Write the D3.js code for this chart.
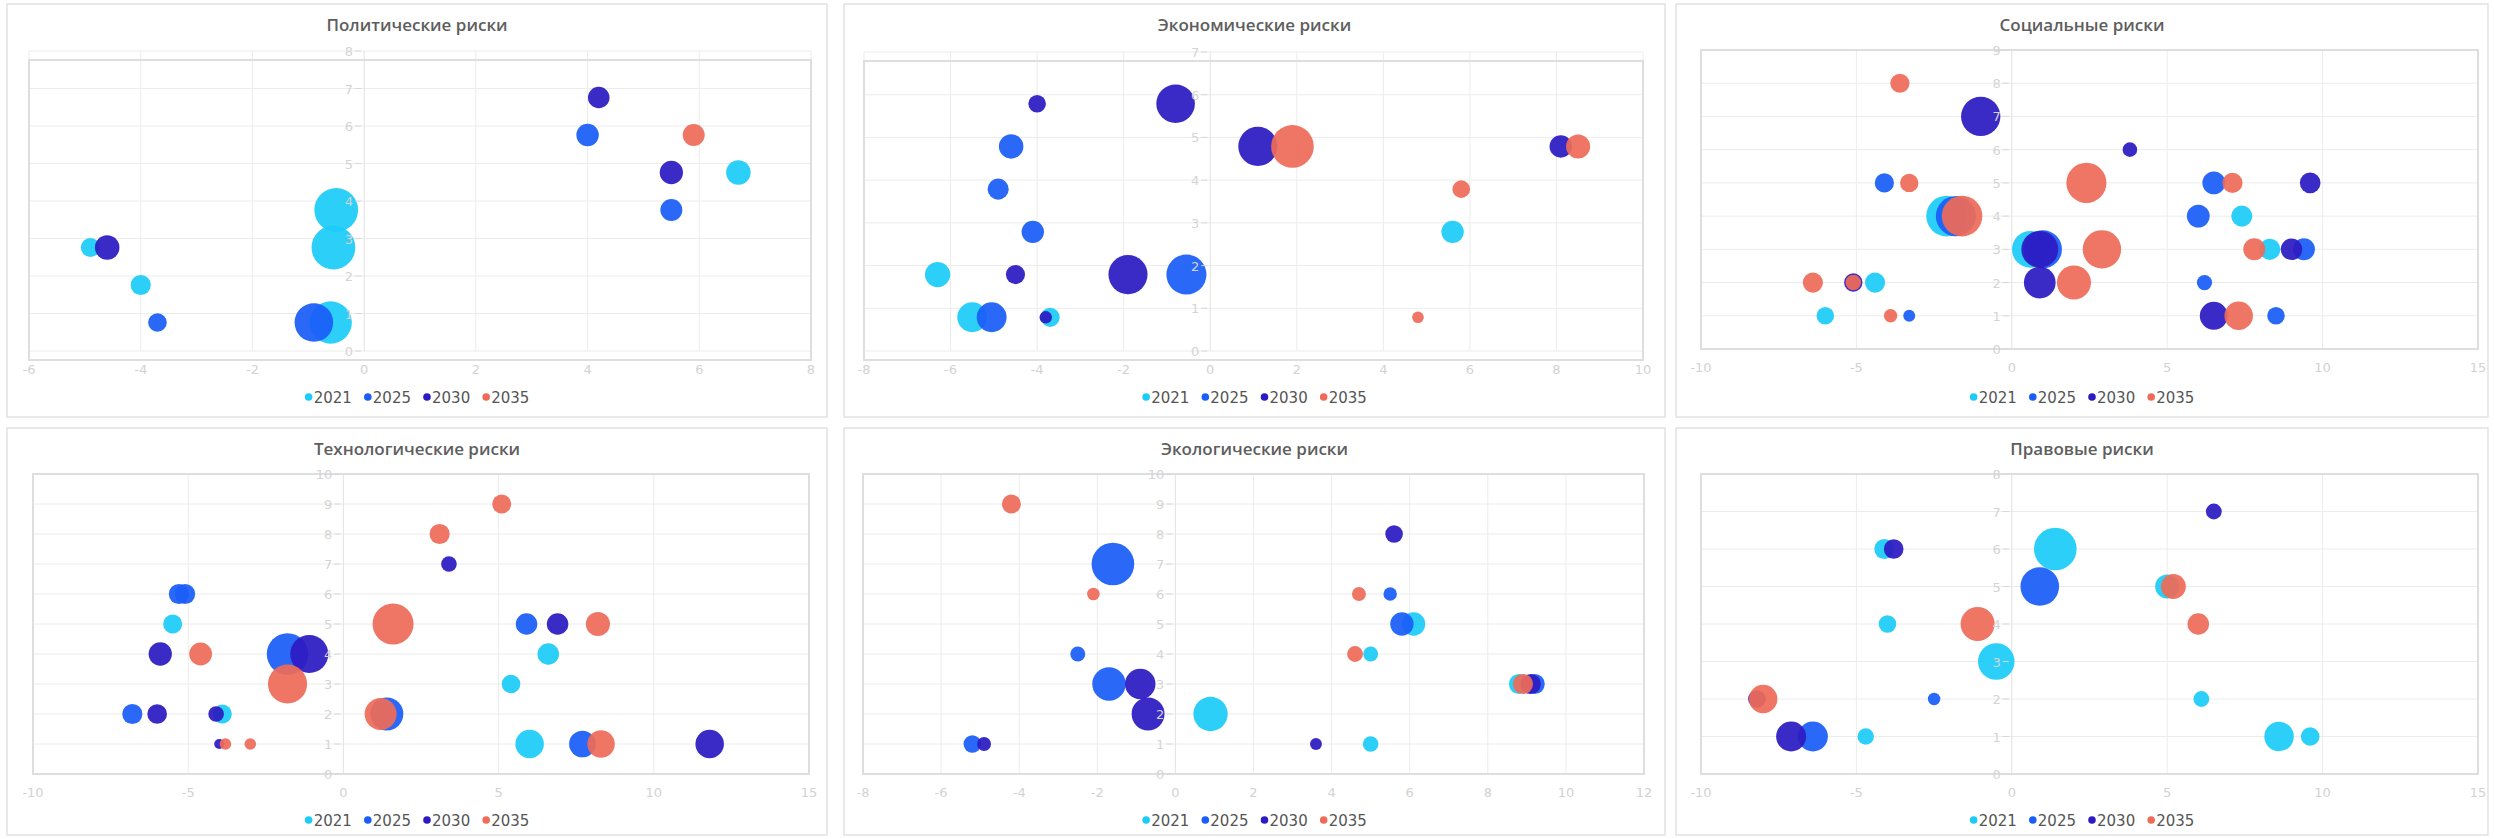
<!DOCTYPE html>
<html>
<head>
<meta charset="utf-8">
<script src="https://cdn.jsdelivr.net/npm/d3@7"></script>
<style>
  body { margin: 0; background: #fff; }
  svg { display: block; }
  text { font-family: "DejaVu Sans", sans-serif; }
  .title { font-family: "Open Sans", "DejaVu Sans", sans-serif; }
</style>
</head>
<body>
<svg id="chart" width="2494" height="839"></svg>
<script>
// series
const years = ["2021", "2025", "2030", "2035"];
const yearColors = ["#1ccbf7", "#1a5ef7", "#2c1bc2", "#ee6b58"];

// panels
const titles = ["Политические риски", "Экономические риски", "Социальные риски",
                "Технологические риски", "Экологические риски", "Правовые риски"];
const xDomains = [[-6, 8], [-8, 10], [-10, 15], [-10, 15], [-8, 12], [-10, 15]];
const xSteps = [2, 2, 5, 5, 2, 5];
const yMaxes = [8, 7, 9, 10, 10, 8];

// points: [year index, x, y, size]
const political = [
  [0, -4.9, 3, 1.9], [2, -4.6, 3, 3.1], [0, -4.0, 2, 2.1], [1, -3.7, 1, 1.8],
  [0, -0.5, 4, 9.9], [0, -0.55, 3, 9.9], [0, -0.6, 1, 9.3], [1, -0.9, 1, 7.7],
  [2, 4.2, 7, 2.4], [1, 4.0, 6, 2.6], [3, 5.9, 6, 2.5], [2, 5.5, 5, 2.8],
  [0, 6.7, 5, 3.1], [1, 5.5, 4, 2.5]
];
const economic = [
  [2, -4.0, 6, 1.6], [1, -4.6, 5, 3.1], [1, -4.9, 4, 2.3], [1, -4.1, 3, 2.6],
  [0, -6.3, 2, 3.3], [2, -4.5, 2, 1.9], [2, -1.9, 2, 7.9], [1, -0.55, 2, 8.3],
  [0, -5.5, 1, 4.6], [1, -5.05, 1, 4.6], [0, -3.7, 1, 1.9], [2, -3.8, 1, 0.8],
  [2, -0.8, 6, 7.7], [2, 1.1, 5, 7.9], [3, 1.9, 5, 9.4], [3, 5.8, 4, 1.6],
  [0, 5.6, 3, 2.6], [3, 4.8, 1, 0.7], [2, 8.1, 5, 2.6], [3, 8.5, 5, 3.0]
];
const social = [
  [3, -3.6, 8, 1.9], [2, -1.0, 7, 8.0], [1, -4.1, 5, 1.9], [3, -3.3, 5, 1.75],
  [0, -2.1, 4, 8.5], [1, -1.8, 4, 8.3], [3, -1.6, 4, 8.5], [3, -6.4, 2, 2.1],
  [2, -5.1, 2, 1.75], [3, -5.1, 2, 1.26], [0, -4.4, 2, 2.1], [0, -6.0, 1, 1.6],
  [3, -3.9, 1, 0.93], [1, -3.3, 1, 0.74], [0, 0.6, 3, 7.0], [1, 1.0, 3, 7.5],
  [2, 0.9, 3, 7.0], [2, 0.9, 2, 5.2], [3, 2.0, 2, 6.0], [3, 2.4, 5, 8.3],
  [3, 2.9, 3, 7.6], [2, 3.8, 6, 1.1], [1, 6.5, 5, 2.7], [3, 7.1, 5, 2.1],
  [2, 9.6, 5, 2.2], [1, 6.0, 4, 2.7], [0, 7.4, 4, 2.3], [3, 7.8, 3, 2.5],
  [0, 8.3, 3, 2.3], [2, 9.0, 3, 2.4], [1, 9.4, 3, 2.5], [1, 6.2, 2, 1.2],
  [2, 6.5, 1, 4.05], [3, 7.3, 1, 4.2], [1, 8.5, 1, 1.6]
];
const technological = [
  [1, -5.3, 6, 2.1], [1, -5.1, 6, 2.1], [0, -5.5, 5, 1.86], [2, -5.9, 4, 2.8],
  [3, -4.6, 4, 2.7], [1, -1.8, 4, 8.9], [2, -1.1, 4, 7.5], [3, -1.8, 3, 7.9],
  [1, -6.8, 2, 2.1], [2, -6.0, 2, 2.0], [0, -3.9, 2, 1.86], [2, -4.1, 2, 1.26],
  [2, -4.0, 1, 0.52], [3, -3.8, 1, 0.7], [3, -3.0, 1, 0.7], [3, 1.6, 5, 8.7],
  [1, 1.4, 2, 5.6], [3, 1.2, 2, 5.3], [3, 3.1, 8, 2.1], [2, 3.4, 7, 1.26],
  [3, 5.1, 9, 1.86], [1, 5.9, 5, 2.4], [2, 6.9, 5, 2.4], [3, 8.2, 5, 3.0],
  [0, 6.6, 4, 2.4], [0, 5.4, 3, 1.8], [0, 6.0, 1, 4.2], [1, 7.7, 1, 3.65],
  [3, 8.3, 1, 3.9], [2, 11.8, 1, 4.2]
];
const ecological = [
  [3, -4.2, 9, 1.86], [1, -1.6, 7, 9.4], [3, -2.1, 6, 0.82], [1, -2.5, 4, 1.16],
  [1, -1.7, 3, 5.8], [2, -0.9, 3, 4.8], [2, -0.7, 2, 5.6], [0, 0.9, 2, 6.1],
  [1, -5.2, 1, 1.6], [2, -4.9, 1, 1.0], [2, 5.6, 8, 1.6], [3, 4.7, 6, 1.0],
  [1, 5.5, 6, 0.93], [0, 6.1, 5, 2.8], [1, 5.8, 5, 2.8], [3, 4.6, 4, 1.3],
  [0, 5.0, 4, 1.16], [0, 8.8, 3, 2.1], [1, 9.2, 3, 2.1], [2, 9.1, 3, 2.1],
  [3, 8.9, 3, 2.1], [2, 3.6, 1, 0.74], [0, 5.0, 1, 1.26]
];
const legal = [
  [0, -4.1, 6, 2.1], [2, -3.8, 6, 2.0], [0, -4.0, 4, 1.6], [3, -1.1, 4, 6.0],
  [0, -0.5, 3, 6.9], [0, 1.4, 6, 9.4], [1, 0.9, 5, 7.7], [2, -8.2, 2, 1.6],
  [3, -8.0, 2, 4.2], [2, -7.1, 1, 4.65], [1, -6.4, 1, 4.65], [0, -4.7, 1, 1.4],
  [1, -2.5, 2, 0.8], [2, 6.5, 7, 1.3], [0, 5.0, 5, 3.0], [3, 5.2, 5, 3.2],
  [3, 6.0, 4, 2.4], [0, 6.1, 2, 1.3], [0, 8.6, 1, 4.5], [0, 9.6, 1, 1.8]
];
const panelData = [political, economic, social, technological, ecological, legal];

// layout: panel box [x, y, w, h], plot frame [left, right, top, bottom], grid shift
const layout = [
  {box: [7, 4, 820, 413],    frame: [29, 811, 60, 360],     shift: 9, titleY: 31,  legendY: 397},
  {box: [844, 4, 821, 413],  frame: [864, 1643, 61, 360],   shift: 9, titleY: 31,  legendY: 397},
  {box: [1676, 4, 812, 413], frame: [1701, 2478, 50, 349],  shift: 0, titleY: 31,  legendY: 397},
  {box: [7, 428, 820, 407],  frame: [33, 809, 474, 774],    shift: 0, titleY: 455, legendY: 820},
  {box: [844, 428, 821, 407], frame: [863, 1644, 474, 774], shift: 0, titleY: 455, legendY: 820},
  {box: [1676, 428, 812, 407], frame: [1701, 2478, 474, 774], shift: 0, titleY: 455, legendY: 820}
];

const svg = d3.select("#chart");
const radius = d3.scaleSqrt().domain([0, 10]).range([0, 22]);

panelData.forEach((points, i) => {
  let L = layout[i];
  let g = svg.append("g").attr("class", "panel");

  // panel card
  g.append("rect")
      .attr("x", L.box[0]).attr("y", L.box[1])
      .attr("width", L.box[2]).attr("height", L.box[3])
      .attr("fill", "#fff")
      .attr("stroke", "#e2e2e2")
      .attr("stroke-width", 1.5);

  let x = d3.scaleLinear().domain(xDomains[i]).range([L.frame[0], L.frame[1]]);
  let y = d3.scaleLinear().domain([0, yMaxes[i]]).range([L.frame[3], L.frame[2]]);
  let xTicks = d3.range(xDomains[i][0], xDomains[i][1] + 0.001, xSteps[i]);
  let yTicks = d3.range(0, yMaxes[i] + 0.001, 1);

  // grid (a few panels have it drawn slightly higher than the frame)
  let grid = g.append("g").attr("transform", `translate(0,${-L.shift})`);

  grid.selectAll(".hgrid").data(yTicks).join("line")
      .attr("x1", L.frame[0]).attr("x2", L.frame[1])
      .attr("y1", d => y(d)).attr("y2", d => y(d))
      .attr("stroke", "#ececec").attr("stroke-width", 1);

  grid.selectAll(".vgrid").data(xTicks).join("line")
      .attr("x1", d => x(d)).attr("x2", d => x(d))
      .attr("y1", y(yMaxes[i])).attr("y2", y(0))
      .attr("stroke", d => d === 0 ? "#e2e2e2" : "#ececec").attr("stroke-width", 1);

  grid.selectAll(".xlabel").data(xTicks).join("text")
      .attr("x", d => x(d))
      .attr("y", y(0) + 23)
      .attr("text-anchor", "middle")
      .attr("font-size", 13)
      .attr("fill", "#d2d2d2")
      .text(d => String(d));

  // plot frame
  g.append("rect")
      .attr("x", L.frame[0]).attr("y", L.frame[2])
      .attr("width", L.frame[1] - L.frame[0]).attr("height", L.frame[3] - L.frame[2])
      .attr("fill", "none")
      .attr("stroke", "#dedede")
      .attr("stroke-width", 2);

  // bubbles, earlier years underneath
  let sorted = points.map((p, k) => [p, k]).sort((a, b) => a[0][0] - b[0][0] || a[1] - b[1]).map(d => d[0]);
  g.append("g").selectAll("circle").data(sorted).join("circle")
      .attr("cx", d => x(d[1]))
      .attr("cy", d => y(d[2]))
      .attr("r", d => radius(d[3]))
      .attr("fill", d => yearColors[d[0]])
      .attr("fill-opacity", 0.93);

  // y labels on the zero line, on top of the bubbles
  let yAxis = g.append("g").attr("transform", `translate(0,${-L.shift})`);
  yAxis.selectAll("line").data(yTicks).join("line")
      .attr("x1", x(0) - 9).attr("x2", x(0) - 3)
      .attr("y1", d => y(d)).attr("y2", d => y(d))
      .attr("stroke", "#d8d8d8");
  yAxis.selectAll("text").data(yTicks).join("text")
      .attr("x", x(0) - 11)
      .attr("y", d => y(d) + 5)
      .attr("text-anchor", "end")
      .attr("font-size", 13)
      .attr("fill", "#d4d4d4")
      .text(d => String(d));

  // title
  g.append("text")
      .attr("class", "title")
      .attr("x", L.box[0] + L.box[2] / 2)
      .attr("y", L.titleY)
      .attr("text-anchor", "middle")
      .attr("font-size", 17)
      .attr("font-weight", 600)
      .attr("fill", "#5e5e5e")
      .text(titles[i]);

  // legend
  let legend = g.append("g");
  let offset = 0;
  years.forEach((yr, k) => {
    let item = legend.append("g").attr("transform", `translate(${offset},0)`);
    item.append("circle")
        .attr("cx", 4).attr("cy", 0).attr("r", 3.8)
        .attr("fill", yearColors[k]);
    let t = item.append("text")
        .attr("x", 9).attr("y", 5.5)
        .attr("font-size", 15)
        .attr("fill", "#555")
        .text(yr);
    offset += 9 + t.node().getComputedTextLength() + 12;
  });
  offset -= 12;
  legend.attr("transform", `translate(${L.box[0] + L.box[2] / 2 - offset / 2},${L.legendY})`);
});
</script>
</body>
</html>
